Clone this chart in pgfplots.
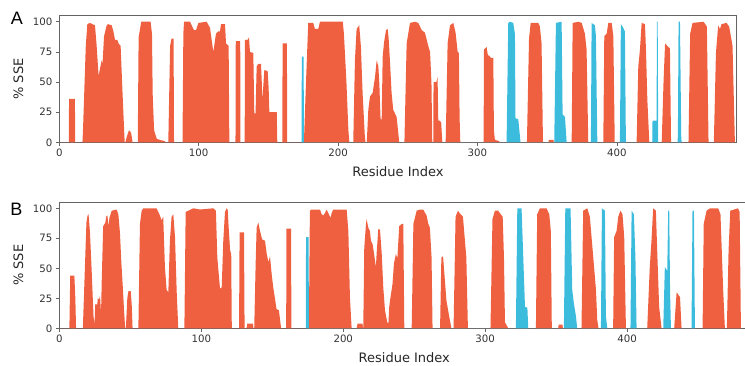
\documentclass[border=0pt]{standalone}
\usepackage{pgfplots}
\pgfplotsset{compat=1.18}
\usepackage{fontspec}
\setmainfont{DejaVu Sans}
\newfontfamily\panelfont{Liberation Sans}
\definecolor{helix}{RGB}{239,96,64}
\definecolor{strand}{RGB}{60,188,220}
\definecolor{spine}{RGB}{100,100,100}
\pgfplotsset{
  sse/.style={
    scale only axis, ymin=0, ymax=105, xmin=0, xmax=486,
    ytick={0,25,50,75,100}, xtick={0,100,200,300,400},
    tick align=outside, xtick pos=bottom, ytick pos=left,
    major tick length=3.5pt,
    every tick/.style={spine, line width=0.6pt},
    axis line style={spine, line width=0.7pt},
    tick label style={font=\fontsize{10.2}{12}\selectfont, text=black!80},
    label style={font=\fontsize{13}{15}\selectfont, text=black!85},
    xlabel style={yshift=-3pt},
    ylabel style={yshift=2.5pt},
    /pgf/number format/assume math mode=true,
    ylabel={\% SSE}, xlabel={Residue Index},
  },
  hel/.style={fill=helix, draw=none},
  str/.style={fill=strand, draw=none},
}
\begin{document}
\begin{tikzpicture}
\useasboundingbox (0,0) rectangle (745pt,365pt);
\clip (0,0) rectangle (745pt,365pt);
% ---------------- Panel A
\begin{axis}[sse, at={(59.3pt,222.7pt)}, anchor=south west, width=677.4pt, height=126.6pt]
\addplot[hel] coordinates {
(0,0)(6.8,0)(7,36)(11.2,36)(11.4,0)
(16.6,0)(17,10)(18,45)(19,80)(20.1,98)(22,99)(25.6,97)(26.8,80)(28.2,55)(29,60)(30.4,68)(31,65)(32.1,88)(34,97)(35,98)(37.6,97)(38.8,92)(40,85)(41.6,85)(42.5,82)(44,80)(45.4,40)(46.9,0)
(47.4,0)(48.5,5)(50,10)(51.5,8)(52.6,0)
(56.3,0)(56.9,87)(58.8,100)(65.5,100)(66.5,90)(67,40)(68,10)(69.9,3)(72,2)(75.8,1)(76,0)
(78.2,0)(79.5,80)(80.5,86)(82,86)(82.3,0)
(88.4,0)(89,90)(89.5,100)(93.8,100)(96.6,93)(98.1,93)(99.8,99)(105.7,100)(108.1,95)(110.5,75)(112.4,90)(114,92)(115.3,92)(116,98)(118.9,98)(119.6,82)(121.5,80)(122,0)
(126.4,0)(126.6,84)(129.8,84)(130,0)
(133,0)(133.2,85)(135.1,85)(136.1,87)(136.8,75)(139.2,74)(139.9,24)(140.8,24)(141.6,63)(142.8,65)(144.7,65)(145.2,52)(145.7,35)(147.1,60)(149.5,59)(150.2,45)(150.7,25)(156,25)(156.4,0)
(160,0)(160.2,82)(163.3,82)(163.5,0)
(175.5,0)(177,50)(178.6,99)(182.2,99)(183.4,94)(185.8,94)(187,100)(203.4,100)(204.2,90)(206,50)(207.4,10)(208.1,0)
(210.9,0)(212.1,68)(213.3,94)(215.2,97)(216.4,79)(217.6,41)(219.2,5)(219.7,0)
(220.6,0)(221.7,27)(222.9,38)(224.8,41)(226.5,54)(227.7,68)(228.9,63)(229.6,49)(230.5,19)(231.3,19)(232,71)(233,83)(234.4,93)(235.6,94)(236.3,86)(237.2,68)(238.4,41)(239.6,27)(242,21)(243,10)(243.9,0)
(247.6,0)(249.2,82)(251.6,99)(255.2,100)(257.6,99)(260,93)(262.3,91)(264.7,80)(266,75)(267,50)(267.6,0)
(268.3,0)(268.5,50)(270.5,50)(271.4,54)(271.9,18)(273.1,18)(274,16)(274.8,0)
(277.2,0)(278.6,82)(280.3,97)(282.7,99)(284.3,91)(285.8,75)(286.7,74)(287.2,20)(287.7,0)
(304.4,0)(304.7,77)(306.6,79)(307.5,72)(308.3,72)(309.7,70)(311.4,70)(311.8,10)(312.5,2)(315.6,1)(316,0)
(335.5,0)(337,86)(338.2,99)(343.7,99)(344.8,96)(346,82)(347,0)
(351,0)(351.2,2)(354.6,2)(354.8,0)
(367.6,0)(368.3,99)(372.4,100)(374.8,99)(377.1,90)(378.3,77)(379.5,0)
(390.3,0)(391,88)(392.7,90)(393.9,99)(396.3,99)(397.5,88)(398.5,0)
(414.2,0)(415.4,63)(416.6,77)(417.8,99)(420.2,98)(420.9,77)(421.9,35)(423.3,0)
(432.2,0)(433.5,50)(434.6,82)(437,79)(438.1,78)(438.9,0)
(451.4,0)(452.6,90)(454.3,99)(462.2,100)(464.6,96)(465.8,0)
(469.6,0)(471.1,74)(472.7,97)(474,94)(475.1,98)(478.7,99)(480.6,96)(483,80)(484.7,0)
} \closedcycle;
\addplot[str] coordinates {
(173.8,0)(174,71)(175.3,71)(175.5,0)
(320.9,0)(322.1,99)(323.3,100)(325.7,99)(326.9,90)(327.3,20)(329.3,19)(330.5,5)(330.9,0)
(355.1,0)(356.3,99)(360.4,100)(361.1,23)(362.8,21)(364,0)
(381.4,0)(381.9,99)(384.3,97)(385,88)(386,0)
(402.2,0)(402.9,98)(404.1,96)(405.8,92)(406.5,0)
(425.4,0)(425.6,18)(428.5,18)(428.8,100)(429.3,100)(429.7,0)
(443.5,0)(443.8,5)(444.3,100)(445.3,100)(446.2,5)(446.5,0)
} \closedcycle;
\end{axis}
% ---------------- Panel B
\begin{axis}[sse, at={(59.3pt,36.7pt)}, anchor=south west, width=690pt, height=126pt]
\addplot[hel] coordinates {
(0,0)(7.1,0)(7.7,44)(10.6,44)(11.3,25)(11.8,0)
(16.6,0)(18.3,60)(19.1,88)(19.9,94)(20.6,95)(21.6,80)(22.8,48)(24.1,10)(24.8,3)(25.3,20)(26.8,20)(27.1,25)(28.0,24)(28.7,27)(29.4,12)(29.9,40)(30.9,85)(32.4,88)(33.0,93)(33.9,94)(34.6,85)(35.3,92)(36.9,98)(40.4,99)(41.6,95)(42.7,80)(43.7,55)(44.7,35)(45.6,15)(46.4,0)
(46.9,0)(47.9,25)(48.7,31)(50.3,31)(51.0,20)(51.6,0)
(55.7,0)(56.8,87)(58.0,98)(59.2,100)(68.5,100)(70.5,95)(72.1,90)(73.2,93)(74.4,51)(75.6,32)(76.8,30)(77.9,73)(79.1,93)(80.3,95)(81.5,76)(82.7,30)(83.8,0)
(88.1,0)(89.0,97)(90.9,98)(94.4,100)(99.1,99)(108.5,100)(110.3,98)(111.3,59)(113.2,33)(114.4,34)(115.5,73)(116.7,97)(117.9,100)(118.6,99)(119.3,84)(120.3,65)(121.1,62)(121.5,0)
(126.6,0)(127.0,80)(130.1,80)(130.5,0)
(131.9,0)(132.4,4)(136.5,4)(136.7,0)
(137.3,0)(138.3,54)(139.0,84)(140.2,88)(141.4,81)(142.9,74)(144.9,73)(146.1,62)(147.3,55)(148.4,60)(149.6,45)(150.7,34)(151.5,28)(153.0,16)(154.7,15)(155.7,5)(156.3,0)
(159.8,0)(160.0,83)(163.2,83)(163.5,0)
(175.8,0)(176.5,98)(177.7,99)(183.6,99)(184.8,95)(185.9,94)(187.1,96)(188.3,99)(189.5,96)(191.1,92)(191.8,96)(193.0,99)(202.4,99)(203.6,81)(204.7,26)(205.9,0)
(209.4,0)(210.1,4)(213.5,4)(214.0,0)
(214.1,0)(214.8,67)(216.0,87)(216.5,91)(217.6,84)(218.8,81)(219.5,73)(220.7,70)(221.7,62)(223.0,51)(223.5,62)(224.7,83)(225.9,82)(227.1,62)(228.2,34)(229.4,15)(231.0,5)(231.8,4)(232.4,18)(233.3,26)(234.7,37)(235.7,54)(237.1,62)(238.1,58)(239.4,85)(241.1,87)(242.3,87)(243.0,0)
(248.2,0)(249.4,87)(251.7,98)(254.0,99)(256.3,99)(258.7,94)(259.9,87)(261.0,84)(262.2,59)(262.9,0)
(268.2,0)(269.1,59)(270.3,60)(271.4,43)(272.7,23)(274.6,10)(276.2,0)
(277.7,0)(279.1,93)(280.8,98)(281.9,96)(284.3,93)(286.7,59)(287.8,0)
(303.7,0)(305.1,91)(306.8,98)(309.2,98)(310.3,96)(312.3,93)(313.2,59)(313.9,5)(316.2,0)
(335.7,0)(336.6,95)(338.5,100)(343.2,100)(345.1,95)(346.2,81)(346.9,0)
(351.4,0)(351.7,3)(354.4,3)(354.7,0)
(367.8,0)(369.0,98)(371.9,100)(373.7,93)(376.1,59)(378.0,32)(378.9,7)(379.8,0)
(390.1,0)(390.8,76)(392.5,81)(393.7,93)(395.2,98)(396.7,95)(397.9,76)(399.1,0)
(414.1,0)(415.9,51)(417.1,73)(418.3,100)(420.2,98)(421.3,59)(422.5,18)(424.2,0)
(433.1,0)(434.8,30)(437.2,26)(438.3,0)
(453.1,0)(453.9,87)(455.9,98)(458.3,100)(464.1,100)(465.7,95)(467.6,32)(468.8,0)
(470.2,0)(471.4,65)(472.6,98)(478.0,100)(479.2,97)(480.1,0)
} \closedcycle;
\addplot[str] coordinates {
(173.6,0)(173.8,76)(175.6,76)(175.8,0)
(321.6,0)(322.6,100)(325.6,100)(326.8,59)(328.0,18)(329.7,17)(330.3,0)
(355.4,0)(356.4,100)(360.1,100)(361.3,32)(362.4,21)(363.9,10)(364.8,0)
(381.5,0)(382.2,100)(384.3,98)(385.0,10)(386.0,0)
(402.3,0)(403.1,98)(404.7,95)(405.8,59)(406.6,0)
(425.4,0)(426.5,51)(428.2,48)(428.9,98)(429.6,98)(430.2,30)(430.8,0)
(445.3,0)(446.0,98)(447.0,98)(447.7,0)
} \closedcycle;
\end{axis}
\node[font=\panelfont\fontsize{18}{20}\selectfont] at (17pt,347pt) {A};
\node[font=\panelfont\fontsize{18}{20}\selectfont] at (16.5pt,156pt) {B};
\end{tikzpicture}
\end{document}
